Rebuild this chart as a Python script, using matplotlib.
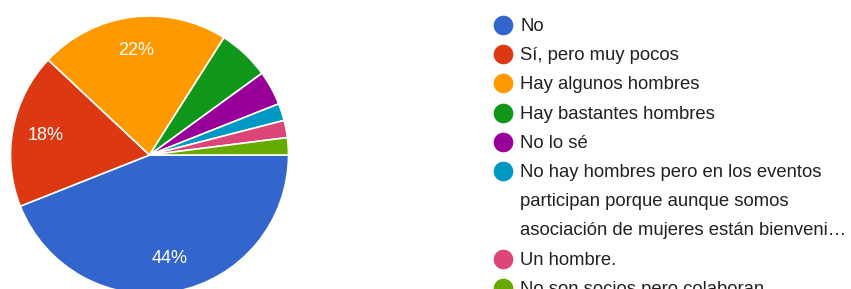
import matplotlib
matplotlib.use("Agg")
import matplotlib.pyplot as plt

plt.rcParams['font.family'] = ['Liberation Sans', 'DejaVu Sans']

# answers and their share of responses (%)
labels = [
    "No",
    "Sí, pero muy pocos",
    "Hay algunos hombres",
    "Hay bastantes hombres",
    "No lo sé",
    "No hay hombres pero en los eventos\nparticipan porque aunque somos\nasociación de mujeres están bienveni…",
    "Un hombre.",
    "No son socios pero colaboran",
]
shares = [44, 18, 22, 6, 4, 2, 2, 2]
colors = ["#3366cc", "#dc3912", "#ff9900", "#109618",
          "#990099", "#0099c6", "#dd4477", "#66aa00"]

W, H = 851, 289
fig = plt.figure(figsize=(W / 100, H / 100), dpi=100)
ax = fig.add_axes([0, 0, 1, 1])

def pct_label(p):
    # small slices get no label, like the google forms chart
    return f"{p:.0f}%" if p >= 10 else ""

ax.pie(shares, colors=colors, startangle=0, counterclock=False,
       center=(149.5, H - 155), radius=139,
       wedgeprops=dict(edgecolor="white", linewidth=1.2),
       autopct=pct_label, pctdistance=0.76,
       textprops=dict(color="white", fontsize=13))

# legend drawn by hand so markers sit on the first line of wrapped labels
row = 0
y0, pitch = 25, 29.2
for lab, col in zip(labels, colors):
    lines = lab.split("\n")
    y = y0 + row * pitch
    ax.scatter([503], [H - y], s=200, color=col, zorder=3, clip_on=False,
               linewidths=0)
    for i, line in enumerate(lines):
        ax.text(520, H - (y + i * pitch) - 1.5, line, fontsize=13.3,
                color="#212121", va="center", ha="left")
    row += len(lines)

ax.set_xlim(0, W)
ax.set_ylim(0, H)
ax.set_aspect("equal")
ax.axis("off")

fig.savefig("out.png", dpi=100, facecolor="white")
